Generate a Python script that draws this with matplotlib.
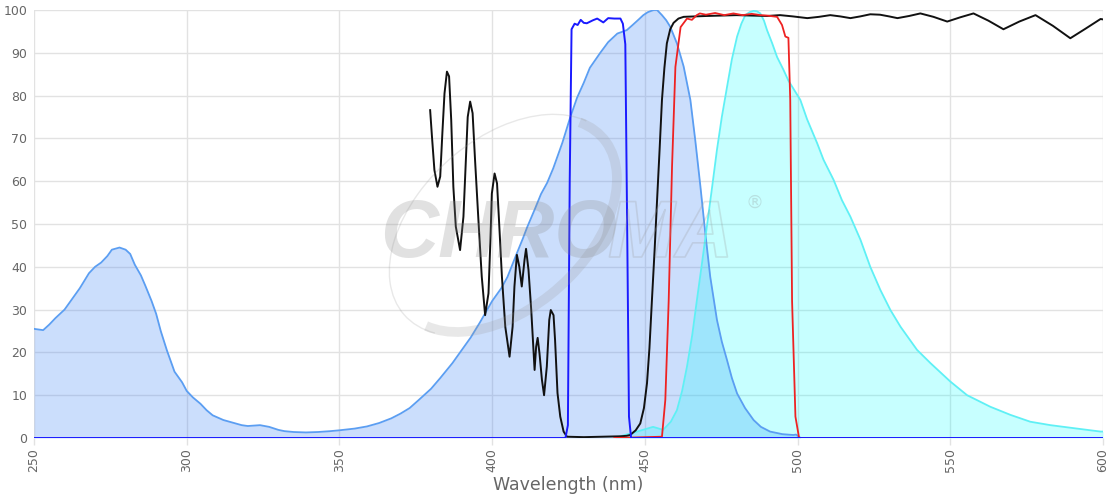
import matplotlib
matplotlib.use('Agg')
import matplotlib.pyplot as plt
import matplotlib.patheffects as pe
from matplotlib.patches import Arc
from matplotlib.transforms import IdentityTransform

# excitation spectrum (light blue, filled)
ex_wl = [250, 253, 255, 257, 260, 262, 265, 268, 270, 272, 274, 275.5, 278, 280, 281.5, 283, 285,
         286.5, 288.5, 290, 291.5, 293.5, 296, 298.5, 300, 302, 304.5, 306.5, 308.5, 312, 315, 318,
         320, 322, 324, 327, 330, 332, 335, 339, 343, 347, 350, 355, 359, 363, 367, 370, 373, 376,
         380, 383, 387, 390, 393, 396, 398, 400, 403, 405, 408, 410, 411.5, 414, 416, 418, 420, 423,
         425.6, 427.8, 430, 432, 435.4, 438, 441, 444.1, 446, 448, 449.5, 451, 452.9, 454, 455.6,
         457, 458.3, 460.5, 462.7, 464.9, 466.5, 468.2, 469.8, 471.4, 473.6, 475.2, 476.9, 478.5,
         480.2, 482.8, 485.6, 488, 491, 495, 498.6, 499.5, 501]
ex_val = [25.5, 25.2, 26.5, 28, 30, 32, 35, 38.5, 40, 41, 42.5, 44, 44.5, 44, 43, 40.5, 38,
          35.5, 32, 29, 25, 20.5, 15.5, 13, 11, 9.5, 8, 6.5, 5.3, 4.2, 3.6, 3.0,
          2.8, 2.9, 3.0, 2.6, 1.9, 1.6, 1.4, 1.3, 1.4, 1.6, 1.8, 2.2, 2.7, 3.5, 4.6, 5.7, 7.0, 8.9,
          11.5, 14, 17.5, 20.5, 23.5, 27, 29.5, 32, 35, 37.6, 43, 46.5, 49.3, 53.5, 57, 59.6, 63, 69,
          75, 79.5, 83, 86.5, 90, 92.5, 94.5, 95.3, 96.5, 97.8, 98.8, 99.5, 100, 100, 98.8,
          97.6, 96.1, 92.2, 86.8, 79, 69.6, 58.7, 47.8, 37.7, 27.6, 22.5, 18.2, 14,
          10.4, 7, 4.2, 2.6, 1.5, 0.9, 0.7, 0.8, 0]

# emission spectrum (cyan, filled)
em_wl = [440, 446, 452.7, 456, 458.5, 460.5, 462.2, 463.8, 465.5, 467, 468.7, 470.3, 472, 473.6,
         475.2, 476.9, 478.5, 480.2, 481.6, 482.9, 484.3, 485.6, 486.7, 487.8, 489, 490, 491.7,
         493.3, 495.4, 497, 500.9, 503.1, 506.4, 508.5, 511.8, 514.5, 517.3, 520.6, 523.8, 527.1,
         530.4, 533.7, 539.1, 543.5, 550, 555.5, 563.1, 569.7, 576.2, 582.8, 590.4, 599.2, 600]
em_val = [0, 1.2, 2.6, 1.9, 3.8, 6.5, 11, 16.7, 24, 32, 40.8, 49.4, 58.5, 67.3,
          75, 82, 88.5, 93.8, 96.8, 98.8, 99.5, 99.8, 99.7, 99.2, 97.5, 95.3, 92.2,
          89, 86, 83.5, 79, 74.5, 68.9, 65, 60.3, 55.6, 51.7, 46.3, 40, 34.6,
          29.9, 26, 20.6, 17.5, 13.2, 10, 7.3, 5.4, 3.8, 3.0, 2.3, 1.5, 1.5]

# excitation filter (blue line)
exf_wl = [250, 424, 424.8, 425.4, 426, 427, 428, 429, 430, 431, 433, 434.4, 436.4, 438, 440,
          442, 442.8, 443.6, 444.2, 444.8, 445.5, 600]
exf_val = [0, 0, 3, 60, 95.5, 96.8, 96.5, 97.7, 97, 96.9, 97.6, 98, 97.1, 98.1, 98,
           98, 96.8, 92, 50, 5, 0, 0]

# emission filter (red line)
emf_wl = [440, 455.6, 456.7, 457.8, 458.9, 460, 461.7, 463.8, 465.4, 467, 468, 470, 473, 476,
          479, 482, 485, 487.8, 490, 493.3, 494.9, 496, 497, 497.6, 498.2, 499.3, 500.5, 520]
emf_val = [0, 0.3, 8.9, 32, 63.4, 86.7, 96, 98, 97.7, 98.8, 99.2, 98.9, 99.3, 98.8,
           99.2, 98.8, 99.1, 98.8, 98.7, 98.4, 96.5, 93.8, 93.5, 79, 32, 5, 0, 0]

# dichroic (black line)
dc_wl = [379.7, 380.3, 381.1, 382.1, 383, 383.7, 384.4, 385.2, 385.9, 386.6, 387.3, 388.1, 389.5,
         390.6, 391.4, 392, 392.8, 393.6, 394.4, 395.5, 396.6, 397.7, 398.8, 399.4, 399.9, 400.8,
         401.6, 402.2, 403.2, 404.3, 405.7, 406.7, 407.3, 408.1, 408.9, 409.7, 410.6, 411.1, 411.9,
         412.8, 413.9, 414.4, 414.9, 415.5, 416.3, 417, 417.9, 418.7, 419.2, 420.1, 420.6, 421.4,
         422.3, 423.4, 424.5, 430, 436, 442, 444, 445.2, 447, 448.5, 449.7, 450.7, 451.5, 452.3,
         453.2, 454, 454.8, 455.6, 456.4, 457.2, 458.3, 459.4, 461, 462.7, 470, 480, 490, 494.3,
         498.5, 503.2, 507, 510.7, 514, 517.3, 520.5, 523.8, 527, 530, 532.7, 536.5, 540.2, 544.5,
         549, 553.3, 557.6, 562.5, 567.4, 572.6, 577.9, 583.6, 589.3, 594.2, 599.2, 600]
dc_val = [76.6, 70.4, 62.6, 58.7, 61.1, 71.2, 80.5, 85.6, 84.5, 74.3, 58.7, 49.4, 43.9,
          51.7, 65, 75, 78.6, 75.9, 65, 51, 37.7, 28.7, 33.8, 45.5, 57.1, 61.8,
          59.5, 51.5, 37.7, 26, 19, 26, 35.4, 42.8, 40, 35.4, 41.6, 44.2, 39.3,
          29.9, 15.9, 21.3, 23.4, 19.8, 13.6, 10, 16.7, 27.6, 29.9, 28.7, 22.9, 10.5,
          5, 1.5, 0.3, 0.2, 0.3, 0.4, 0.5, 0.7, 1.8, 3.4, 7, 12.8, 21, 32,
          44, 55.6, 67, 79, 86.5, 92.2, 95.5, 97, 98, 98.4, 98.6, 98.8, 98.6, 98.8,
          98.5, 98.1, 98.4, 98.8, 98.5, 98.1, 98.5, 99, 98.9, 98.5, 98.1, 98.6, 99.2, 98.4,
          97.3, 98.3, 99.2, 97.5, 95.5, 97.3, 98.8, 96.3, 93.4, 95.6, 97.9, 97.8]

x_ticks = [250, 300, 350, 400, 450, 500, 550, 600]
y_ticks = [0, 10, 20, 30, 40, 50, 60, 70, 80, 90, 100]

fig = plt.figure(figsize=(11.2, 5), dpi=100)
ax = fig.add_axes([34 / 1120, 62 / 500, 1069 / 1120, 428 / 500])

# fills first
ax.fill_between(ex_wl, ex_val, 0, color=(0.26, 0.52, 0.96, 0.27), lw=0, zorder=2)
ax.fill_between(em_wl, em_val, 0, color=(0.0, 1.0, 1.0, 0.22), lw=0, zorder=2)
ax.plot(ex_wl, ex_val, color='#5b9ef2', lw=1.3, zorder=3)
ax.plot(em_wl, em_val, color='#5ff0f5', lw=1.3, zorder=3)

ax.plot(dc_wl, dc_val, color='#111111', lw=1.4, zorder=4)
ax.plot(emf_wl, emf_val, color='#ee2222', lw=1.3, zorder=4)
ax.plot(exf_wl, exf_val, color='#1a1aff', lw=1.4, zorder=5)

ax.set_xlim(250, 600)
ax.set_ylim(0, 100)
ax.set_xticks(x_ticks)
ax.set_yticks(y_ticks)
ax.set_xticklabels([str(t) for t in x_ticks], rotation=90)
ax.grid(True, color='#e2e2e2', lw=1, zorder=0)
ax.set_axisbelow(True)
for s in ax.spines.values():
    s.set_visible(False)
ax.tick_params(colors='#666666', labelsize=9, length=5, width=1)
ax.tick_params(axis='x', color='#e2e2e2', pad=2)
ax.tick_params(axis='y', color='#e2e2e2', length=0, pad=5)
ax.set_xlabel('Wavelength (nm)', color='#666666', fontsize=12.5, labelpad=3)

# faint logo watermark (pixel coordinates)
arc1 = Arc((505, 275), 270, 172, angle=42, theta1=10, theta2=195,
           transform=IdentityTransform(), color='#999999', alpha=0.22, lw=1.0, zorder=6)
arc2 = Arc((505, 275), 262, 165, angle=42, theta1=190, theta2=372,
           transform=IdentityTransform(), color='#999999', alpha=0.22, lw=7, zorder=6)
ax.add_patch(arc1)
ax.add_patch(arc2)
fig.text(380 / 1120, 1 - 257 / 500, 'CHRO', fontsize=58, family='Liberation Sans',
         fontweight='bold', fontstyle='italic', color='#888888', alpha=0.25, zorder=7)
fig.text(608 / 1120, 1 - 257 / 500, 'MA', fontsize=58, family='Liberation Sans',
         fontweight='bold', fontstyle='italic', color=(1, 1, 1, 0), zorder=7,
         path_effects=[pe.Stroke(linewidth=1.2, foreground=(0.6, 0.6, 0.6, 0.25))])
fig.text(745 / 1120, 1 - 208 / 500, '®', fontsize=13, family='DejaVu Sans',
         color='#888888', alpha=0.25, zorder=7)

fig.savefig('out.png', dpi=100)
